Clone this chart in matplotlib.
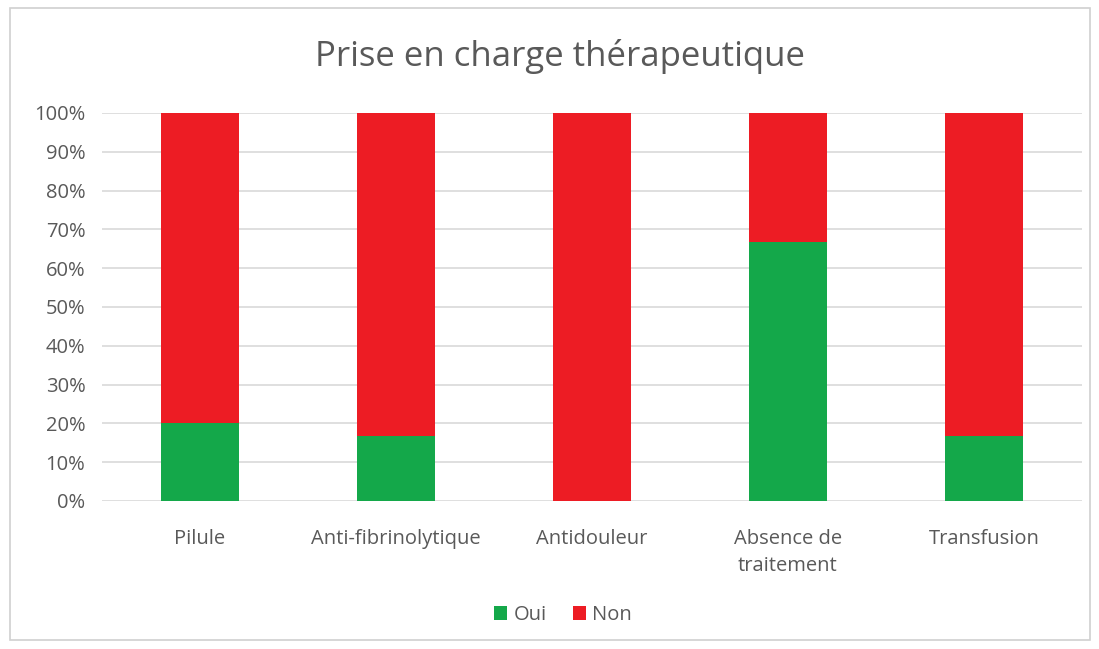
import matplotlib.pyplot as plt
from matplotlib.patches import Rectangle
from matplotlib.ticker import PercentFormatter

categories = ['Pilule', 'Anti-fibrinolytique', 'Antidouleur', 'Absence de\ntraitement', 'Transfusion']
oui = [20.0, 16.7, 0.0, 66.7, 16.7]
non = [80.0, 83.3, 100.0, 33.3, 83.3]

green = '#14a84a'
red = '#ed1c24'
text_col = '#595959'

plt.rcParams['font.family'] = ['Open Sans', 'DejaVu Sans']

fig = plt.figure(figsize=(10.99, 6.49), dpi=100)
fig.patches.append(Rectangle((10 / 1099, 9 / 649), 1080 / 1099, 632 / 649, transform=fig.transFigure,
                             fill=False, edgecolor='#d0d0d0', linewidth=1.2))
ax = fig.add_axes([102 / 1099, 148 / 649, 980 / 1099, 388 / 649])

x = range(len(categories))
ax.bar(x, oui, 0.4, color=green, label='Oui', zorder=3)
ax.bar(x, non, 0.4, bottom=oui, color=red, label='Non', zorder=3)

ax.set_ylim(0, 100)
ax.set_xlim(-0.5, len(categories) - 0.5)
ax.set_yticks(range(0, 101, 10))
ax.yaxis.set_major_formatter(PercentFormatter(decimals=0))
ax.set_xticks(list(x))
ax.set_xticklabels(categories, linespacing=1.45)
ax.tick_params(axis='both', length=0, labelsize=14.5, colors=text_col)
ax.tick_params(axis='x', pad=20)
ax.tick_params(axis='y', pad=12)
ax.grid(axis='y', color='#d9d9d9', linewidth=1.2, zorder=0)
for s in ax.spines.values():
    s.set_visible(False)

fig.text(560 / 1099, 1 - 57 / 649, 'Prise en charge thérapeutique', ha='center', va='center',
         fontsize=25, color=text_col)
fig.legend(loc='center', bbox_to_anchor=(563 / 1099, 1 - 615 / 649), ncol=2, frameon=False,
           fontsize=14.5, labelcolor=text_col, handlelength=0.65, handleheight=0.65,
           handletextpad=0.3, columnspacing=1.3)

plt.savefig('out.png', dpi=100)
